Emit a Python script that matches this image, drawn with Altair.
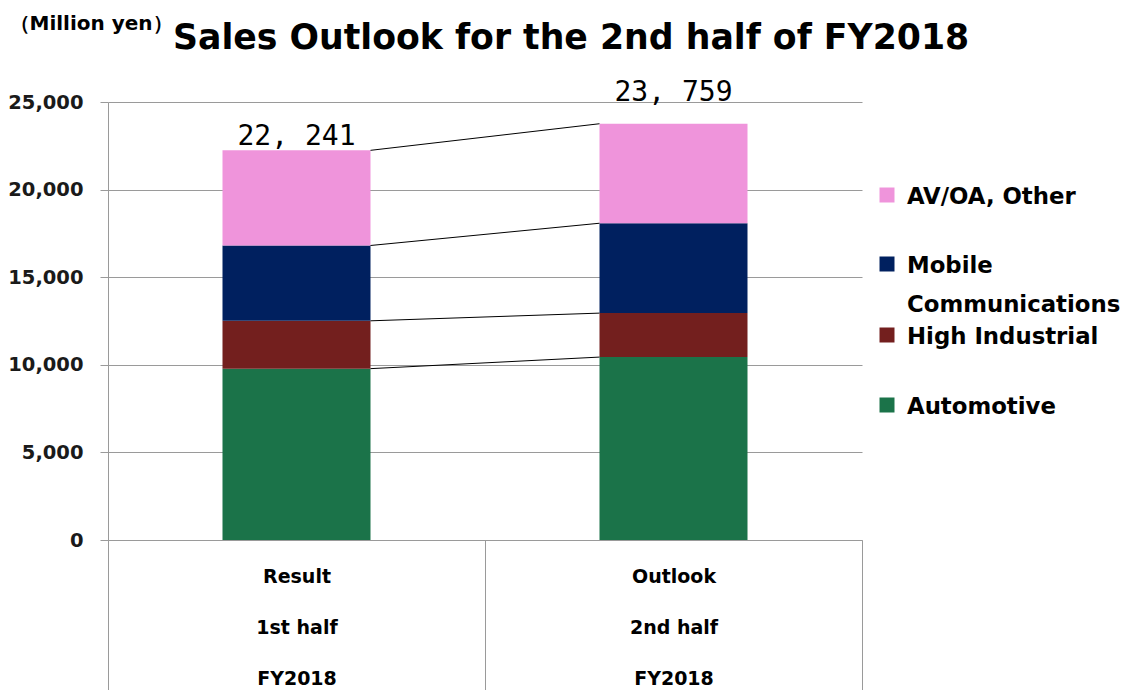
import altair as alt
import pandas as pd

# ---- data ----
categories = ["Result|1st half|FY2018", "Outlook|2nd half|FY2018"]
series = ["Automotive", "High Industrial", "Mobile Communications", "AV/OA, Other"]
automotive = [9780, 10440]
high_industrial = [2730, 2510]
mobile = [4300, 5130]
av_oa = [5431, 5679]
totals = [22241, 23759]
total_labels = ["22, 241", "23, 759"]
colors = ["#1B7349", "#731F1E", "#00205F", "#EF94DB"]

values_by_series = [automotive, high_industrial, mobile, av_oa]

rows = []
for si, (s, vals) in enumerate(zip(series, values_by_series)):
    for ci, c in enumerate(categories):
        rows.append({"category": c, "series": s, "value": vals[ci], "order": si})
bar_df = pd.DataFrame(rows)

# cumulative boundaries for connector lines
conn_rows = []
cum = [0, 0]
for vals in values_by_series:
    cum = [cum[0] + vals[0], cum[1] + vals[1]]
    conn_rows.append({"from": categories[0], "to": categories[1], "y1": cum[0], "y2": cum[1]})
conn_df = pd.DataFrame(conn_rows)

tot_df = pd.DataFrame({"category": categories, "total": totals, "label": total_labels})

FONT = "DejaVu Sans"
GRID = "#9a9a9a"
BAR_FRAC = 0.3926  # bar width as a fraction of the band

x_scale = alt.Scale(domain=categories, paddingInner=0, paddingOuter=0)
y_scale = alt.Scale(domain=[0, 25000], nice=False)

x_axis = alt.Axis(
    title=None, labelAngle=0, labelExpr="split(datum.label, '|')",
    labelFont=FONT, labelFontSize=19, labelFontWeight="bold", labelColor="#000000",
    labelLineHeight=51, labelBaseline="top", labelPadding=-127,
    tickBand="extent", tickSize=154, tickColor=GRID, domainColor=GRID, grid=False,
)
y_axis = alt.Axis(
    values=[0, 5000, 10000, 15000, 20000, 25000], format=",.0f",
    labelFont=FONT, labelFontSize=19.5, labelFontWeight="bold", labelColor="#1a1a1a",
    labelPadding=17, tickSize=8, tickColor=GRID, domainColor=GRID, gridColor=GRID,
    title="（Million yen）", titleAngle=0, titleX=-99, titleY=-73,
    titleAlign="left", titleBaseline="alphabetic", titleFont=FONT,
    titleFontSize=20, titleFontWeight="bold", titleColor="#000000",
)

bars = alt.Chart(bar_df).mark_bar(width=alt.RelativeBandSize(BAR_FRAC)).encode(
    x=alt.X("category:N", sort=categories, scale=x_scale, axis=x_axis),
    y=alt.Y("value:Q", stack="zero", scale=y_scale, axis=y_axis),
    color=alt.Color("series:N", scale=alt.Scale(domain=series, range=colors), legend=None),
    order=alt.Order("order:Q"),
)

connectors = alt.Chart(conn_df).mark_rule(color="#000000", strokeWidth=1).encode(
    x=alt.X("from:N", bandPosition=0.5 + BAR_FRAC / 2, sort=categories),
    x2=alt.X2("to:N", bandPosition=0.5 - BAR_FRAC / 2),
    y=alt.Y("y1:Q"),
    y2=alt.Y2("y2:Q"),
)

lab_style = dict(font="DejaVu Sans Mono", fontSize=28, baseline="alphabetic", color="#000000")
label1 = alt.Chart(tot_df).transform_filter(
    alt.datum.category == categories[0]
).mark_text(dy=-5, **lab_style).encode(
    x=alt.X("category:N", sort=categories), y="total:Q", text="label:N")
label2 = alt.Chart(tot_df).transform_filter(
    alt.datum.category == categories[1]
).mark_text(dy=-23, **lab_style).encode(
    x=alt.X("category:N", sort=categories), y="total:Q", text="label:N")

# ---- custom legend (layout positions in px, relative to plot origin) ----
legend_entries = [
    ("AV/OA, Other", colors[3], 93, []),
    ("Mobile", colors[2], 162, ["Communications"]),
    ("High Industrial", colors[1], 233, []),
    ("Automotive", colors[0], 303, []),
]
LEG_TEXT = dict(align="left", baseline="alphabetic", font=FONT, fontSize=22.8,
                fontWeight="bold", color="#000000")
legend_layers = []
for text, col, yc, extra in legend_entries:
    d = pd.DataFrame({"label": [text]})
    legend_layers.append(
        alt.Chart(d).mark_square(size=225, color=col, opacity=1).encode(
            x=alt.value(779), y=alt.value(yc))
    )
    legend_layers.append(
        alt.Chart(d).mark_text(**LEG_TEXT).encode(
            x=alt.value(799), y=alt.value(yc + 9), text="label:N")
    )
    for k, e in enumerate(extra):
        d2 = pd.DataFrame({"label": [e]})
        legend_layers.append(
            alt.Chart(d2).mark_text(**LEG_TEXT).encode(
                x=alt.value(799), y=alt.value(yc + 9 + 39 * (k + 1)), text="label:N")
        )

chart = alt.layer(bars, connectors, label1, label2, *legend_layers).properties(
    width=754,
    height=438,
    autosize=alt.AutoSizeParams(type="none"),
    padding={"left": 100, "top": 94, "right": 261, "bottom": 150},
    title=alt.TitleParams(
        "Sales Outlook for the 2nd half of FY2018",
        anchor="start", frame="group", dx=65, dy=79, offset=8,
        font=FONT, fontSize=34.7, fontWeight="bold", color="#000000",
        baseline="alphabetic",
    ),
    background="white",
).configure_view(stroke=None)

chart.save("out.html", embed_options={"renderer": "svg", "actions": False})
